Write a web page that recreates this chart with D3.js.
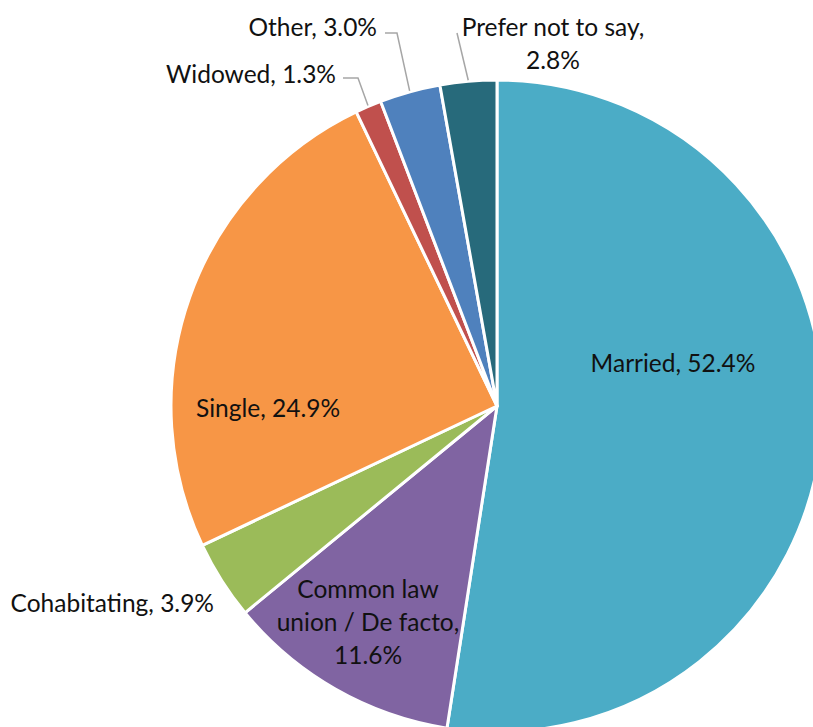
<!DOCTYPE html>
<html>
<head>
<meta charset="utf-8">
<script src="https://cdn.jsdelivr.net/npm/d3@7"></script>
<style>
  html, body { margin: 0; padding: 0; background: #fff; }
  svg { display: block; }
  text { font-family: Lato, "Open Sans", sans-serif; font-size: 24.5px; fill: #111; }
</style>
</head>
<body>
<svg id="chart" width="813" height="727"></svg>
<script>
// Marital status shares (percent), clockwise from 12 o'clock
const categories = ["Married", "Common law union / De facto", "Cohabitating", "Single", "Widowed", "Other", "Prefer not to say"];
const shares = [52.4, 11.6, 3.9, 24.9, 1.3, 3.0, 2.8];
const colors = ["#4BACC6", "#8064A2", "#9BBB59", "#F79646", "#C0504D", "#4F81BD", "#276A7B"];

// Label text lines for each slice
const labelLines = [
  ["Married, 52.4%"],
  ["Common law", "union / De facto,", "11.6%"],
  ["Cohabitating, 3.9%"],
  ["Single, 24.9%"],
  ["Widowed, 1.3%"],
  ["Other, 3.0%"],
  ["Prefer not to say,", "2.8%"]
];

const W = 813, H = 727;
const cx = 497, cy = 406, R = 326;
const svg = d3.select("#chart");
const g = svg.append("g").attr("transform", `translate(${cx},${cy})`);

const pie = d3.pie().sort(null).value(d => d);
const arcs = pie(shares);
const arc = d3.arc().innerRadius(0).outerRadius(R);

g.selectAll("path.slice")
  .data(arcs)
  .join("path")
  .attr("class", "slice")
  .attr("d", arc)
  .attr("fill", (d, i) => colors[i])
  .attr("stroke", "#fff")
  .attr("stroke-width", 3)
  .attr("stroke-linejoin", "round");

// Label placement: [dx, dy, anchor] of each label block relative to the pie centre;
// inside labels sit on the slice, outside ones get a leader line to the rim.
const labelPos = [
  [176, -44, "middle"],
  [-129, 215, "middle"],
  [-283, 196, "end"],
  [-229, 1, "middle"],
  [-161, -333, "end"],
  [-120, -380, "end"],
  [56, -364, "middle"]
];
const lineH = 33;

arcs.forEach((a, i) => {
  const [dx, dy, anchor] = labelPos[i];
  const lines = labelLines[i];
  const t = g.append("text")
    .attr("text-anchor", anchor)
    .attr("x", dx)
    .attr("y", dy - (lines.length - 1) * lineH / 2)
    .attr("dominant-baseline", "central");
  lines.forEach((ln, k) => {
    t.append("tspan").attr("x", dx).attr("dy", k === 0 ? 0 : lineH).text(ln);
  });
});

// Leader lines from the outside labels to their slices' rims
const leaderFor = [4, 5, 6];
const leaderElbow = [
  [[-154, -328], [-139, -328]],
  [[-112, -373], [-100, -373]],
  [[-40, -373]]
];
leaderFor.forEach((i, k) => {
  const a = arcs[i];
  const mid = (a.startAngle + a.endAngle) / 2;
  const rim = [Math.sin(mid) * (R + 1), -Math.cos(mid) * (R + 1)];
  const pts = leaderElbow[k].concat([rim]);
  g.append("path")
    .attr("d", d3.line()(pts))
    .attr("fill", "none")
    .attr("stroke", "#A6A6A6")
    .attr("stroke-width", 1.5);
});
</script>
</body>
</html>
